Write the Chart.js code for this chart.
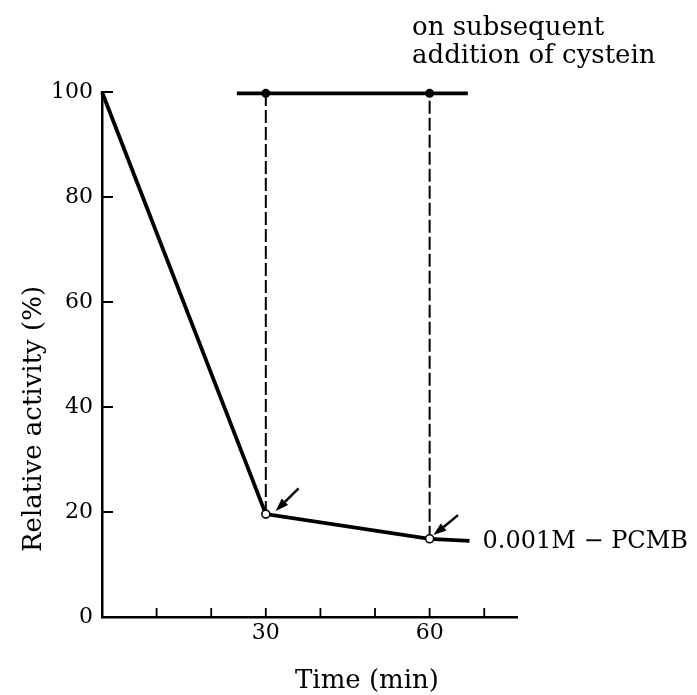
<!DOCTYPE html>
<html>
<head>
<meta charset="utf-8">
<script src="https://cdn.jsdelivr.net/npm/chart.js@4"></script>
<style>
    html, body { margin: 0; background: #fff; }
    #wrap { width: 697px; height: 695px; }
</style>
</head>
<body>
<div id="wrap"><canvas id="chart"></canvas></div>
<script>
// values
const timeMin = [0, 30, 60, 67.3];
const activityPCMB = [100, 19.6, 14.9, 14.5];
const timeCys = [24.7, 30, 60, 67];
const activityCys = [99.75, 99.75, 99.75, 99.75];
const dropTimes = [30, 60];
const labelledTimes = [30, 60];
const yTickValues = [0, 20, 40, 60, 80, 100];
// small arrows pointing at the open circles: [time, activity]
const arrowTail = [[36.0, 24.5], [65.2, 19.4]];
const arrowTip = [[31.8, 20.2], [60.7, 15.6]];

const SERIF = '"DejaVu Serif", serif';
const INK = '#000';

const mainLine = {
    data: timeMin.map((t, i) => ({ x: t, y: activityPCMB[i] })),
    borderColor: INK,
    borderWidth: 3.8,
    pointRadius: timeMin.map(t => dropTimes.includes(t) ? 4 : 0),
    pointBackgroundColor: '#fff',
    pointBorderColor: INK,
    pointBorderWidth: 1.6,
    tension: 0,
    clip: false
};

const cysLine = {
    data: timeCys.map((t, i) => ({ x: t, y: activityCys[i] })),
    borderColor: INK,
    borderWidth: 3.8,
    pointRadius: timeCys.map(t => dropTimes.includes(t) ? 4.5 : 0),
    pointBackgroundColor: INK,
    pointBorderColor: INK,
    pointBorderWidth: 0,
    tension: 0,
    clip: false
};

// dashed drops from each open circle up to the cystein line
const dropLines = dropTimes.map(t => ({
    data: [
        { x: t, y: activityPCMB[timeMin.indexOf(t)] },
        { x: t, y: activityCys[timeCys.indexOf(t)] }
    ],
    borderColor: INK,
    borderWidth: 2,
    borderDash: [13, 4],
    pointRadius: 0,
    clip: false
}));

// ticks point into the plot, so draw them here
const innerTicks = {
    id: 'innerTicks',
    afterDatasetsDraw(chart) {
        const { ctx, scales: { x, y }, chartArea } = chart;
        ctx.save();
        ctx.strokeStyle = INK;
        ctx.lineWidth = 1.8;
        ctx.beginPath();
        x.ticks.forEach(t => {
            if (t.value === 0) return;
            const px = x.getPixelForValue(t.value);
            ctx.moveTo(px, chartArea.bottom);
            ctx.lineTo(px, chartArea.bottom - 9);
        });
        y.ticks.forEach(t => {
            if (t.value === 0) return;
            const py = y.getPixelForValue(t.value);
            ctx.moveTo(chartArea.left, py);
            ctx.lineTo(chartArea.left + 11, py);
        });
        ctx.stroke();
        ctx.restore();
    }
};

const arrows = {
    id: 'arrows',
    afterDatasetsDraw(chart) {
        const { ctx, scales: { x, y } } = chart;
        ctx.save();
        ctx.strokeStyle = INK;
        ctx.fillStyle = INK;
        ctx.lineWidth = 2.5;
        arrowTail.forEach((tail, i) => {
            const x0 = x.getPixelForValue(tail[0]), y0 = y.getPixelForValue(tail[1]);
            const x1 = x.getPixelForValue(arrowTip[i][0]), y1 = y.getPixelForValue(arrowTip[i][1]);
            const a = Math.atan2(y1 - y0, x1 - x0);
            const len = 13, half = 4.5;
            const bx = x1 - len * Math.cos(a), by = y1 - len * Math.sin(a);
            ctx.beginPath();
            ctx.moveTo(x0, y0);
            ctx.lineTo(bx, by);
            ctx.stroke();
            ctx.beginPath();
            ctx.moveTo(x1, y1);
            ctx.lineTo(bx + half * Math.sin(a), by - half * Math.cos(a));
            ctx.lineTo(bx - half * Math.sin(a), by + half * Math.cos(a));
            ctx.closePath();
            ctx.fill();
        });
        ctx.restore();
    }
};

const annotations = {
    id: 'annotations',
    afterDraw(chart) {
        const { ctx, scales: { x, y } } = chart;
        ctx.save();
        ctx.fillStyle = INK;
        ctx.textBaseline = 'alphabetic';
        ctx.textAlign = 'left';

        ctx.font = '26px ' + SERIF;
        ctx.fillText('on subsequent', 412, 35);
        ctx.fillText('addition of cystein', 412, 63);

        // label at the end of the PCMB line
        const last = timeMin.length - 1;
        ctx.font = '24px ' + SERIF;
        ctx.fillText('0.001M − PCMB',
            x.getPixelForValue(timeMin[last]) + 13,
            y.getPixelForValue(activityPCMB[last]) + 7);

        // axis titles
        ctx.font = '26px ' + SERIF;
        ctx.fillText('Time (min)', 295, 688);

        ctx.translate(41, 419);
        ctx.rotate(-Math.PI / 2);
        ctx.textAlign = 'center';
        ctx.fillText('Relative activity (%)', 0, 0);
        ctx.restore();
    }
};

new Chart(document.getElementById('chart'), {
    type: 'line',
    data: { datasets: [mainLine, cysLine, ...dropLines] },
    options: {
        responsive: true,
        maintainAspectRatio: false,
        animation: false,
        layout: { padding: { top: 92, right: 180, bottom: 0, left: 0 } },
        plugins: {
            legend: { display: false },
            tooltip: { enabled: false }
        },
        scales: {
            x: {
                type: 'linear',
                min: 0,
                max: 76,
                afterFit: s => { s.height = 78; },
                grid: { display: false, drawTicks: false },
                border: { display: true, color: INK, width: 2.5 },
                ticks: {
                    stepSize: 10,
                    includeBounds: false,
                    autoSkip: false,
                    maxRotation: 0,
                    padding: 3,
                    color: INK,
                    font: { family: SERIF, size: 22 },
                    callback: v => labelledTimes.includes(v) ? String(v) : ''
                }
            },
            y: {
                type: 'linear',
                min: 0,
                max: 100,
                afterFit: s => { s.width = 102; },
                afterBuildTicks: s => { s.ticks = yTickValues.map(v => ({ value: v })); },
                grid: { display: false, drawTicks: false },
                border: { display: true, color: INK, width: 2.5 },
                ticks: {
                    padding: 9,
                    color: INK,
                    font: { family: SERIF, size: 22 }
                }
            }
        }
    },
    plugins: [innerTicks, arrows, annotations]
});
</script>
</body>
</html>
